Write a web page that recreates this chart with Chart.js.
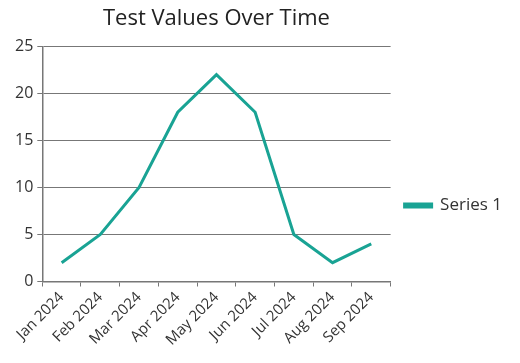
<!DOCTYPE html>
<html>
<head>
<meta charset="utf-8">
<script src="https://cdn.jsdelivr.net/npm/chart.js@4"></script>
<style>
  html, body { margin: 0; padding: 0; background: #fff; }
  #wrap { width: 520px; height: 363px; }
</style>
</head>
<body>
<div id="wrap"><canvas id="chart"></canvas></div>
<script>
const months = ["Jan 2024", "Feb 2024", "Mar 2024", "Apr 2024", "May 2024", "Jun 2024", "Jul 2024", "Aug 2024", "Sep 2024"];
const series1 = [2, 5, 10, 18, 22, 18, 5, 2, 4];
const yTicks = [0, 5, 10, 15, 20, 25];

const teal = "#19a394";
const gridGrey = "#777777";
const textColor = "#333333";
const fontFamily = "'Open Sans', sans-serif";

// nudge the legend down a little, like the original
const legendShift = {
  id: "legendShift",
  afterLayout(chart) {
    chart.legend.top += 29;
    chart.legend.bottom += 29;
  },
};

const ctx = document.getElementById("chart").getContext("2d");
new Chart(ctx, {
  type: "line",
  data: {
    labels: months,
    datasets: [{
      label: "Series 1",
      data: series1,
      borderColor: teal,
      backgroundColor: teal,
      borderWidth: 3,
      pointRadius: 0,
      tension: 0,
    }],
  },
  plugins: [legendShift],
  options: {
    responsive: true,
    maintainAspectRatio: false,
    animation: false,
    layout: { padding: { left: 11, right: 8, top: 2, bottom: 12 } },
    plugins: {
      title: {
        display: true,
        fullSize: false,
        text: "Test Values Over Time",
        color: "#222",
        font: { family: fontFamily, size: 22, weight: "normal" },
        padding: { top: 4, bottom: 14 },
      },
      legend: {
        position: "right",
        labels: {
          color: textColor,
          font: { family: fontFamily, size: 17 },
          boxWidth: 27,
          boxHeight: 3,
          padding: 14,
        },
      },
      tooltip: { enabled: false },
    },
    scales: {
      x: {
        offset: true,
        grid: {
          offset: true,
          drawOnChartArea: false,
          drawTicks: true,
          tickLength: 5,
          color: gridGrey,
        },
        border: { color: gridGrey, width: 1.5 },
        ticks: {
          color: textColor,
          font: { family: fontFamily, size: 15 },
          minRotation: 45,
          maxRotation: 45,
          padding: 2,
        },
      },
      y: {
        min: 0,
        max: 25,
        afterBuildTicks: (axis) => { axis.ticks = yTicks.map((v) => ({ value: v })); },
        grid: {
          color: gridGrey,
          lineWidth: 1,
          tickLength: 5,
        },
        border: { color: gridGrey, width: 1.5 },
        ticks: {
          color: textColor,
          font: { family: fontFamily, size: 16 },
          padding: 4,
        },
      },
    },
  },
});
</script>
</body>
</html>
